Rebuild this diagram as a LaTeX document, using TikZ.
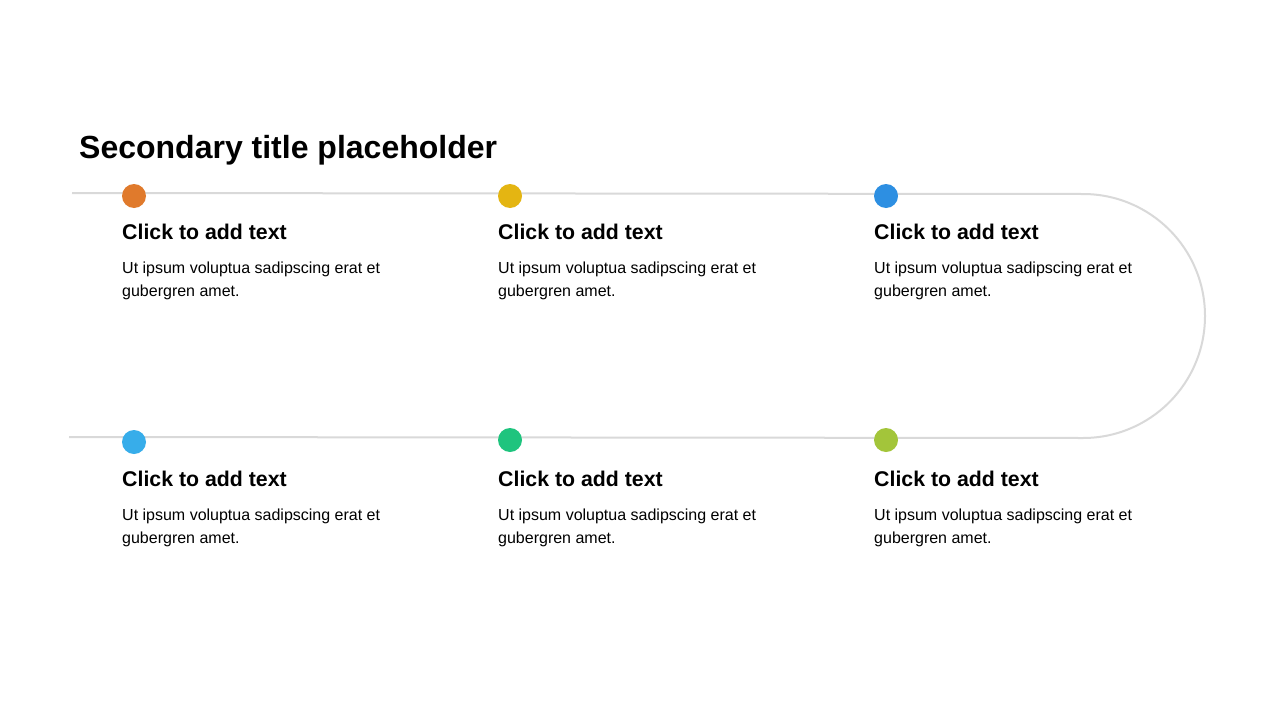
\documentclass[tikz,border=0pt]{standalone}
\usepackage{fontspec}
\setmainfont{Liberation Sans}
\begin{document}
\begin{tikzpicture}[x=1pt,y=-1pt,
  track/.style={draw=black!15, line width=2pt},
  dot/.style={circle, fill=#1, minimum size=24pt, inner sep=0pt},
  head/.style={anchor=base west, inner sep=0pt, font=\fontsize{21.3}{25}\selectfont\bfseries},
  body/.style={anchor=north west, inner sep=0pt, align=left, font=\fontsize{16}{23}\selectfont},
  ttl/.style={anchor=base west, inner sep=0pt, font=\fontsize{32}{38}\selectfont\bfseries}]
\definecolor{c1}{HTML}{E07A2C}
\definecolor{c2}{HTML}{E4B512}
\definecolor{c3}{HTML}{2D8FE2}
\definecolor{c4}{HTML}{37ADEA}
\definecolor{c5}{HTML}{1EC47E}
\definecolor{c6}{HTML}{A3C53A}
\useasboundingbox[fill=white] (0,0) rectangle (1280,720);
\node[ttl] (title) at (79,158) {Secondary title placeholder};
% track
\coordinate (ts) at (72,193);
\coordinate (te) at (1083,194);
\coordinate (be) at (1083,438);
\coordinate (bs) at (69,437);
\draw[track] (ts) -- (te) arc[start angle=-90, end angle=90, radius=122] -- (bs);
% dots
\node[dot=c1] (d1) at (134,196) {};
\node[dot=c2] (d2) at (510,196) {};
\node[dot=c3] (d3) at (886,196) {};
\node[dot=c4] (d4) at (134,442) {};
\node[dot=c5] (d5) at (510,440) {};
\node[dot=c6] (d6) at (886,440) {};
% texts
\foreach \x/\n in {122/a,498/b,874/c}{
  \node[head] (h\n) at (\x,239) {Click to add text};
  \node[body] (t\n) at (\x,261.5) {Ut ipsum voluptua sadipscing erat et\\gubergren amet.};
  \node[head] (H\n) at (\x,486) {Click to add text};
  \node[body] (T\n) at (\x,508.5) {Ut ipsum voluptua sadipscing erat et\\gubergren amet.};
}
\end{tikzpicture}
\end{document}
